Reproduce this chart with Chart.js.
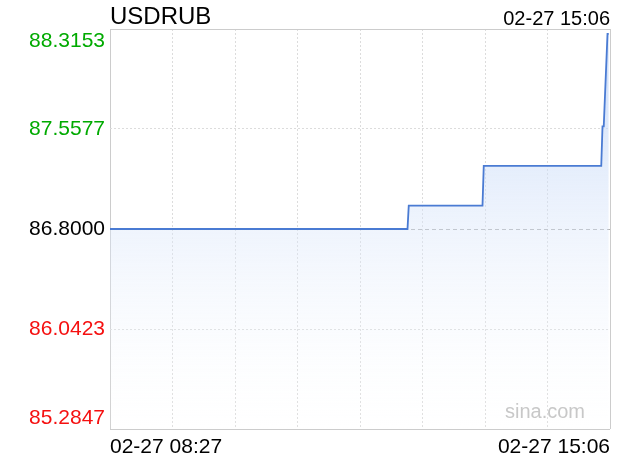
<!DOCTYPE html>
<html>
<head>
<meta charset="utf-8">
<script src="https://cdn.jsdelivr.net/npm/chart.js@4/dist/chart.umd.min.js"></script>
<style>
  html, body { margin: 0; padding: 0; background: #fff; }
  #wrap { position: relative; width: 620px; height: 460px; }
</style>
</head>
<body>
<div id="wrap"><canvas id="c" width="620" height="460"></canvas></div>
<script>
// ---- data ----
const symbol = 'USDRUB';
const dateLabel = '02-27';
const startTime = '08:27';
const endTime = '15:06';
const times  = ['08:27','12:25','12:26','13:25','13:26','15:00','15:01','15:02','15:05','15:06'];
const prices = [86.8, 86.8, 86.977, 86.977, 87.278, 87.278, 87.578, 87.578, 88.279, 88.279];
const yTickValues = [88.3153, 87.5577, 86.8000, 86.0423, 85.2847];
const yTickLabels = ['88.3153', '87.5577', '86.8000', '86.0423', '85.2847'];
const prevClose = 86.8;
const axisMinutes = 400;

function toMin(t) {
  const [h, m] = t.split(':').map(Number);
  const [h0, m0] = startTime.split(':').map(Number);
  return (h * 60 + m) - (h0 * 60 + m0);
}
const points = times.map((t, i) => ({ x: toMin(t), y: prices[i] }));

const FONT = '"Liberation Sans", Arial, Helvetica, sans-serif';
const GREEN = '#00aa00', RED = '#f51010', BLACK = '#000';

const textPlugin = {
  id: 'texts',
  afterDraw(chart) {
    const ctx = chart.ctx;
    const a = chart.chartArea;
    const ys = chart.scales.y;
    ctx.save();
    ctx.fillStyle = '#000';
    ctx.font = '24px ' + FONT;
    ctx.textAlign = 'left';
    ctx.textBaseline = 'alphabetic';
    ctx.fillText(symbol, a.left, 24);
    ctx.font = '20px ' + FONT;
    ctx.textAlign = 'right';
    ctx.fillText(dateLabel + ' ' + endTime, a.right, 25);
    ctx.font = '21px ' + FONT;
    ctx.textAlign = 'right';
    yTickValues.forEach((v, i) => {
      const py = ys.getPixelForValue(v);
      let base;
      if (i === 0) base = a.top + 18;
      else if (i === yTickValues.length - 1) base = a.bottom - 5;
      else base = py + 6;
      ctx.fillStyle = v > prevClose + 1e-9 ? GREEN : (v < prevClose - 1e-9 ? RED : BLACK);
      ctx.fillText(yTickLabels[i], a.left - 5, base);
    });
    ctx.fillStyle = '#000';
    ctx.textAlign = 'left';
    ctx.fillText(dateLabel + ' ' + startTime, a.left, 453);
    ctx.textAlign = 'right';
    ctx.fillText(dateLabel + ' ' + endTime, a.right, 453);
    ctx.font = '20px ' + FONT;
    ctx.fillStyle = '#c8c8c8';
    ctx.textAlign = 'left';
    ctx.fillText('sina.com', 505, 418);
    ctx.restore();
  }
};

function gridColor(isX) {
  return (c) => {
    const v = c.tick ? c.tick.value : null;
    if (v === null) return '#ddd';
    if (isX) {
      if (v === 0 || v === axisMinutes) return '#cccccc';
      return '#dcdcdc';
    }
    if (Math.abs(v - yTickValues[0]) < 1e-6 || Math.abs(v - yTickValues[4]) < 1e-6) return '#cccccc';
    if (Math.abs(v - prevClose) < 1e-6) return '#b0b0b0';
    return '#dcdcdc';
  };
}
function gridDash(isX) {
  return (c) => {
    const v = c.tick ? c.tick.value : null;
    if (v === null) return [];
    if (isX) {
      if (v === 0 || v === axisMinutes) return [];
      return [2, 2];
    }
    if (Math.abs(v - yTickValues[0]) < 1e-6 || Math.abs(v - yTickValues[4]) < 1e-6) return [];
    if (Math.abs(v - prevClose) < 1e-6) return [4, 3];
    return [2, 2];
  };
}

const ctx = document.getElementById('c').getContext('2d');
new Chart(ctx, {
  type: 'line',
  data: {
    datasets: [{
      data: points,
      borderColor: '#4a7bd3',
      borderWidth: 1.8,
      pointRadius: 0,
      tension: 0,
      fill: 'start',
      backgroundColor: (c) => {
        const a = c.chart.chartArea;
        if (!a) return 'rgba(200,218,245,0.4)';
        const g = c.chart.ctx.createLinearGradient(0, a.top, 0, a.bottom);
        g.addColorStop(0, 'rgba(180,205,245,0.75)');
        g.addColorStop(1, 'rgba(255,255,255,0.1)');
        return g;
      }
    }]
  },
  options: {
    responsive: false,
    animation: false,
    events: [],
    layout: { padding: { left: 110, right: 10, top: 29, bottom: 31 } },
    plugins: { legend: { display: false }, tooltip: { enabled: false }, title: { display: false } },
    scales: {
      x: {
        type: 'linear', min: 0, max: axisMinutes,
        ticks: { display: false },
        afterBuildTicks: (s) => { const t = []; for (let v = 0; v <= axisMinutes; v += 50) t.push({ value: v }); s.ticks = t; },
        grid: { color: gridColor(true), lineWidth: 1, drawTicks: false },
        border: { display: false, dash: gridDash(true) }
      },
      y: {
        type: 'linear', min: yTickValues[4], max: yTickValues[0],
        ticks: { display: false },
        afterBuildTicks: (s) => { s.ticks = yTickValues.map(v => ({ value: v })); },
        grid: { color: gridColor(false), lineWidth: 1, drawTicks: false },
        border: { display: false, dash: gridDash(false) }
      }
    }
  },
  plugins: [textPlugin]
});
</script>
</body>
</html>
